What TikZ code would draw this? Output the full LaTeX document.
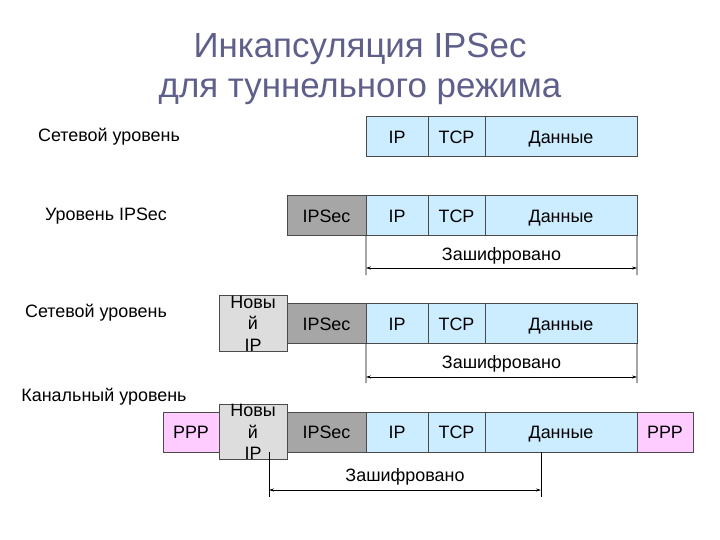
\documentclass[tikz,border=0pt]{standalone}
\usepackage{fontspec}
\setmainfont{Liberation Sans}
\usetikzlibrary{arrows.meta}
\definecolor{titlec}{HTML}{5F5F8C}
\definecolor{edgec}{HTML}{4A4A4A}
\definecolor{blue1}{HTML}{CCECFF}
\definecolor{gray1}{HTML}{A6A6A6}
\definecolor{gray2}{HTML}{DDDDDD}
\definecolor{pink1}{HTML}{FFCCFF}
\tikzset{
  cell/.style={draw=edgec, line width=1bp, minimum height=40bp, inner sep=0pt, outer sep=0pt, font=\fontsize{18}{20}\selectfont},
  onel/.style={cell, text height=13bp, text depth=0bp},
  bl/.style={onel, fill=blue1},
  gr/.style={onel, fill=gray1},
  lg/.style={cell, fill=gray2, align=center, font=\fontsize{18}{21.5}\selectfont},
  pk/.style={onel, fill=pink1},
  lbl/.style={font=\fontsize{18}{20}\selectfont, inner sep=0pt},
  enc/.style={font=\fontsize{18}{20}\selectfont, inner sep=0pt},
  tick/.style={draw=black, line width=0.6bp},
  span/.style={draw=black, line width=0.6bp, {Stealth[length=5bp,width=3bp]}-{Stealth[length=5bp,width=3bp]}},
}
\begin{document}
\begin{tikzpicture}[x=1bp,y=-1bp]
\useasboundingbox (0,0) rectangle (720,540);
% title
\node[titlec, font=\fontsize{35}{40}\selectfont, align=center, inner sep=0pt] (title) at (360,69) {Инкапсуляция IPSec\\для туннельного режима};
% row labels
\node[lbl] (l1) at (109,137) {Сетевой уровень};
\node[lbl] (l2) at (106,216) {Уровень IPSec};
\node[lbl] (l3) at (96,313) {Сетевой уровень};
\node[lbl] (l4) at (104,397) {Канальный уровень};
% row 1
\node[bl, minimum width=62bp] (ip1) at (397,137) {IP};
\node[bl, minimum width=57bp] (tcp1) at (456.5,137) {TCP};
\node[bl, minimum width=152bp] (d1) at (561,137) {Данные};
% row 2
\node[gr, minimum width=79bp] (s2) at (326.5,216) {IPSec};
\node[bl, minimum width=62bp] (ip2) at (397,216) {IP};
\node[bl, minimum width=57bp] (tcp2) at (456.5,216) {TCP};
\node[bl, minimum width=152bp] (d2) at (561,216) {Данные};
% row 3
\node[lg, minimum width=68bp] (n3) at (253,323.5) {Новы\\й\\IP};
\node[gr, minimum width=79bp] (s3) at (326.5,323.5) {IPSec};
\node[bl, minimum width=62bp] (ip3) at (397,323.5) {IP};
\node[bl, minimum width=57bp] (tcp3) at (456.5,323.5) {TCP};
\node[bl, minimum width=152bp] (d3) at (561,323.5) {Данные};
% row 4
\node[pk, minimum width=56bp] (p4a) at (191,432) {PPP};
\node[lg, minimum width=68bp] (n4) at (253,432) {Новы\\й\\IP};
\node[gr, minimum width=79bp] (s4) at (326.5,432) {IPSec};
\node[bl, minimum width=62bp] (ip4) at (397,432) {IP};
\node[bl, minimum width=57bp] (tcp4) at (456.5,432) {TCP};
\node[bl, minimum width=152bp] (d4) at (561,432) {Данные};
\node[pk, minimum width=56bp] (p4b) at (665,432) {PPP};
% encrypted span, row 2
\coordinate (a2) at (366,275);
\coordinate (b2) at (637,275);
\draw[tick] (ip2.south west) -- (a2);
\draw[tick] (d2.south east) -- (b2);
\coordinate (a2m) at (366,268);
\coordinate (b2m) at (637,268);
\draw[span] (a2m) -- (b2m);
\node[enc] (e2) at (501.5,256) {Зашифровано};
% row 3
\coordinate (a3) at (366,383);
\coordinate (b3) at (637,383);
\draw[tick] (ip3.south west) -- (a3);
\draw[tick] (d3.south east) -- (b3);
\coordinate (a3m) at (366,377);
\coordinate (b3m) at (637,377);
\draw[span] (a3m) -- (b3m);
\node[enc] (e3) at (501.5,364) {Зашифровано};
% row 4
\coordinate (t4a) at (269,452);
\coordinate (t4b) at (541,452);
\coordinate (a4) at (269,497);
\coordinate (b4) at (541,497);
\draw[tick] (t4a) -- (a4);
\draw[tick] (t4b) -- (b4);
\coordinate (a4m) at (269,490);
\coordinate (b4m) at (541,490);
\draw[span] (a4m) -- (b4m);
\node[enc] (e4) at (405,477) {Зашифровано};
\end{tikzpicture}
\end{document}
